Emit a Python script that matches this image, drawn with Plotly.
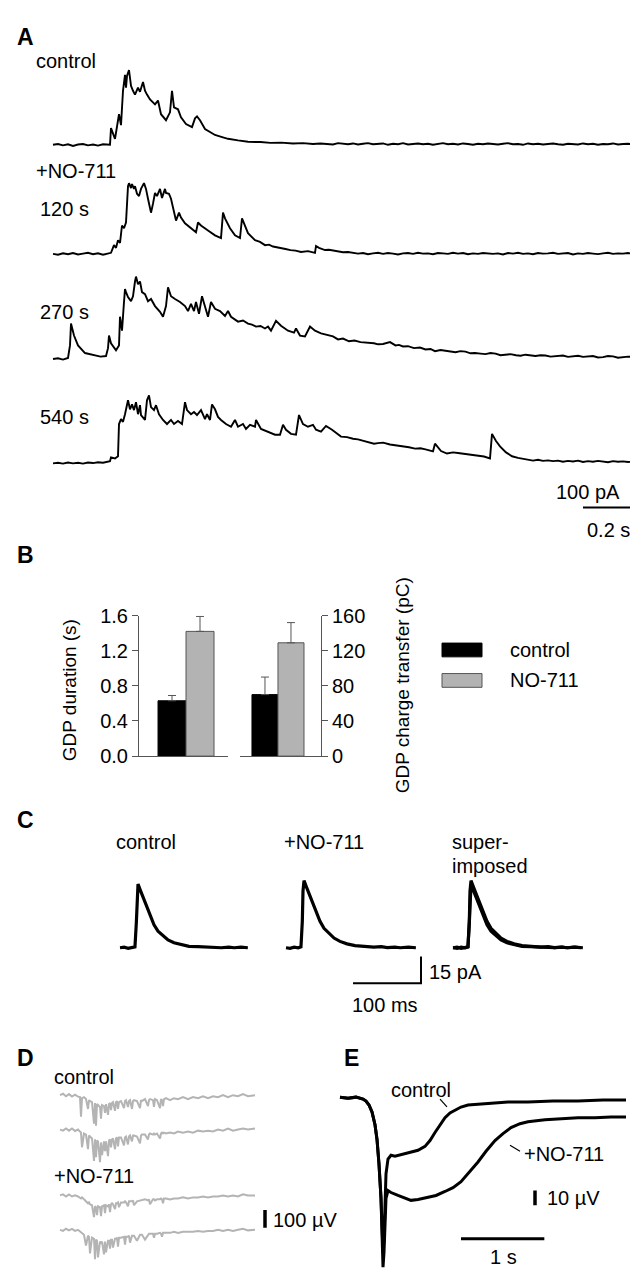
import plotly.graph_objects as go

W, H = 638, 1280
FONT = "Liberation Sans, Arial, Helvetica, sans-serif"

# ---------------- Panel A: GDP currents, (time ms, current pA) ----------------
ctrl = [(0,0),(20,3),(40,-2),(60,2),(80,-4),(100,1),(120,3),(140,-2),(160,1),(180,-3),(200,2),(220,0),(228,0),
 (232,61),(248,22),(264,112),(272,72),(280,198),(288,256),(292,209),(296,252),(304,274),(312,216),(320,198),(328,184),
 (340,209),(348,194),(360,230),(368,198),(376,184),(388,166),(408,148),(420,162),(432,112),(452,90),(468,119),(476,198),
 (484,137),(500,130),(512,101),(532,76),(556,65),(568,97),(576,104),(588,90),(608,58),(648,36),(670,30),(700,22),(740,16),
 (780,11),(830,10),(870,7),(912,8),(960,5),(1000,6),(1040,3),(1070,5),
 (1100,4),(1120,1),(1140,6),(1160,3),(1180,2),(1200,5),(1220,1),(1240,4),(1260,6),(1280,2),(1300,3),(1320,5),(1340,0),
 (1360,4),(1380,2),(1400,6),(1420,1),(1440,3),(1460,5),(1480,2),(1500,4),(1520,0),(1540,3),(1560,6),(1580,2),(1600,4),
 (1620,1),(1640,5),(1660,3),(1680,0),(1700,4),(1720,2),(1740,5),(1760,3),(1780,1),(1800,4),(1820,6),(1840,2),(1860,3),
 (1880,0),(1900,5),(1920,2),(1940,4),(1960,1),(1980,3),(2000,5),(2020,2),(2040,0),(2060,4),(2080,3),(2100,1),(2120,5),
 (2140,2),(2160,4),(2180,0),(2200,3),(2220,2),(2240,5),(2260,1),(2280,3),(2300,4),(2320,2)]

no711_120 = [(0,0),(20,-3),(40,2),(60,-1),(80,3),(100,-2),(120,1),(140,4),(160,-1),(180,2),(200,-3),(220,1),(232,4),
 (244,32),(252,22),(260,50),(268,40),(276,104),(284,94),(292,115),(300,248),(304,259),(312,241),(316,256),(324,238),
 (328,248),(336,220),(344,212),(352,238),(364,259),(372,238),(380,202),(392,151),(400,184),(408,223),(416,212),(428,238),
 (436,205),(448,238),(452,223),(464,220),(472,202),(484,151),(492,122),(504,151),(512,133),(528,112),(552,94),(572,79),
 (580,115),(592,104),(620,86),(648,68),(672,58),(680,151),(688,130),(708,94),(728,68),(748,58),(756,130),(768,104),
 (780,76),(808,50),(828,44),(848,32),(864,34),(880,27),(896,25),(912,22),(930,18),(950,14),(970,12),(992,7),(1020,10),
 (1048,4),(1052,29),(1064,22),(1088,14),(1104,15),(1120,12),(1140,8),(1160,6),(1180,7),
 (1200,4),(1220,1),(1240,3),(1260,-1),(1280,2),(1300,4),(1320,0),(1340,3),(1360,1),(1380,-2),(1400,2),(1420,3),(1440,0),
 (1460,4),(1480,1),(1500,2),(1520,-1),(1540,3),(1560,2),(1580,0),(1600,4),(1620,1),(1640,3),(1660,-1),(1680,2),(1700,0),
 (1720,3),(1740,1),(1760,0),(1780,2),(1800,-2),(1820,3),(1840,1),(1860,4),(1880,0),(1900,2),(1920,-1),(1940,3),(1960,1),
 (1980,2),(2000,4),(2020,0),(2040,1),(2060,3),(2080,-2),(2100,2),(2120,0),(2140,3),(2160,1),(2180,-1),(2200,2),(2220,4),
 (2240,0),(2260,2),(2280,1),(2300,3),(2320,0)]

no711_270 = [(0,0),(20,3),(40,-2),(60,4),(68,50),(72,130),(84,86),(100,50),(128,22),(150,18),(168,14),(190,9),(212,11),
 (220,40),(224,86),(232,58),(252,32),(264,50),(268,155),(276,104),(284,209),(288,256),(292,245),(300,227),(312,212),
 (320,230),(328,284),(332,302),(340,274),(348,284),(356,245),(368,238),(380,212),(392,220),(408,194),(428,173),(440,155),
 (452,194),(460,263),(472,230),(488,220),(508,209),(528,194),(540,176),(552,202),(564,176),(572,209),(584,166),(596,230),
 (608,191),(620,155),(632,209),(648,184),(668,176),(688,158),(700,176),(712,155),(740,137),(760,141),(780,130),(796,126),
 (812,119),(830,121),(848,112),(860,119),(872,104),(892,140),(912,122),(940,104),(964,97),(972,112),(988,86),(1008,83),
 (1028,119),(1048,104),(1072,94),(1100,86),(1120,83),(1140,72),(1160,75),(1184,65),(1206,68),(1230,62),(1256,60),
 (1284,58),(1300,54),(1320,55),(1348,62),(1370,50),(1384,52),(1400,46),(1420,47),(1444,40),(1468,42),(1490,35),
 (1510,37),(1528,29),(1550,33),(1570,31),(1590,27),(1610,25),(1630,29),(1650,27),(1670,21),(1688,22),(1710,20),
 (1730,18),(1750,22),(1770,20),(1790,14),(1810,15),(1830,18),(1852,14),(1870,12),(1890,16),(1910,13),(1930,11),
 (1950,14),(1970,13),(1990,9),(2016,11),(2040,13),(2060,8),(2080,10),(2100,12),(2120,8),(2140,10),(2160,11),(2180,6),
 (2200,7),(2220,11),(2240,10),(2260,5),(2280,6),(2300,9),(2320,7)]

no711_540 = [(0,-4),(20,-2),(40,-5),(60,-1),(80,-4),(100,-2),(120,-5),(140,-1),(160,-3),(180,0),(200,-2),(220,1),(228,4),
 (232,18),(248,14),(260,22),(264,140),(272,158),(280,148),(288,176),(300,227),(308,194),(316,212),(324,191),(332,220),
 (340,176),(348,209),(352,173),(368,155),(376,227),(384,245),(392,202),(404,191),(412,209),(424,176),(440,155),(456,140),
 (472,155),(484,140),(500,151),(516,140),(528,220),(536,191),(552,176),(564,184),(576,173),(592,191),(608,158),(616,176),
 (628,155),(636,212),(648,194),(660,166),(672,155),(692,140),(712,130),(728,155),(740,130),(760,140),(772,122),(788,137),
 (808,130),(812,155),(832,122),(860,112),(888,101),(908,101),(920,137),(932,119),(952,104),(972,101),(984,173),(1000,140),
 (1020,130),(1040,137),(1052,119),(1072,112),(1092,133),(1116,119),(1152,94),(1176,92),(1200,86),(1220,84),(1240,79),
 (1262,76),(1284,68),(1300,70),(1320,72),(1348,65),(1374,62),(1400,58),(1424,55),(1448,50),(1470,51),(1490,47),
 (1520,40),(1528,68),(1552,41),(1576,32),(1600,36),(1620,34),(1640,31),(1656,29),(1680,27),(1700,22),(1724,21),
 (1748,14),(1756,104),(1772,78),(1788,58),(1812,36),(1836,22),(1860,16),
 (1884,11),(1900,8),(1920,6),(1940,9),(1960,5),(1980,7),(2000,4),(2020,6),(2040,2),(2060,5),(2080,3),(2100,6),(2120,1),
 (2140,4),(2160,2),(2180,5),(2200,3),(2220,0),(2240,4),(2260,2),(2280,3),(2300,1),(2320,2)]

# ---------------- Panel B: bar chart ----------------
groups = ["control", "NO-711"]
dur_mean = [0.63, 1.42]      # GDP duration (s)
dur_sem = [0.06, 0.17]
chg_mean = [70, 129]         # GDP charge transfer (pC)
chg_sem = [20, 23]
dur_ticks = [0.0, 0.4, 0.8, 1.2, 1.6]
chg_ticks = [0, 40, 80, 120, 160]

# ---------------- Panel C: averaged currents (ms, pA) ----------------
c_ctrl = [(0,0),(6,0.3),(12,-0.3),(18,0),(22,0.5),(24,14),(25,30),(26.5,36),(29.4,33),(32.4,30),(36.8,26),(41.2,21),
 (45.6,17),(50,13),(55.9,9.4),(63.2,6.7),(70.6,4.4),(79.4,2.8),(89.7,1.7),(101.5,0.8),(114.7,0.6),(129,0.3),(140,0.5),
 (149,0),(160,0.4),(168,0),(178,0.3),(188,0)]
c_no711 = [(0,0),(6,-0.3),(12,0.3),(18,0),(22,0.5),(24,15),(25,32),(26.5,38),(29.4,35),(32.4,32),(36.8,28),(41.2,23),
 (45.6,19),(50,15),(55.9,11),(63.2,8),(70.6,5.5),(79.4,3.6),(89.7,2.2),(101.5,1.2),(114.7,0.8),(129,0.4),(140,0.6),
 (149,0.1),(160,0.4),(168,0),(180,0.3),(191,0)]

# ---------------- Panel D: field potentials (ms, uV) ----------------
d_t = [0,36,72,108,144,180,216,240,252,264,288,312,336,348,360,384,408,420,432,444,456,480,492,504,528,540,552,576,588,600,
 612,624,636,660,672,684,696,708,732,768,780,792,816,828,840,864,876,888,924,960,972,984,1020,1056,1068,1080,1116,1128,
 1140,1164,1200,1212,1224,1236,1248,1272,1320,1368,1416,1476,1536,1596,1656,1716,1776,1836,1896,1956,2016,2076,2136,
 2196,2256,2340]
d_ctrl1 = [0,8,-6,6,-8,3,-8,-11,-121,-17,-11,-22,-77,-28,-33,-39,-160,-44,-171,-50,-55,-66,-132,-55,-61,-99,-50,-110,-50,
 -44,-83,-44,-39,-88,-39,-33,-77,-39,-33,-72,-33,-28,-66,-33,-28,-77,-33,-28,-33,-72,-28,-33,-22,-61,-28,-22,-28,-66,-22,
 -28,-72,-22,-28,-61,-22,-17,-28,-17,-22,-11,-22,-11,-17,-6,-17,-6,-11,0,-11,0,-6,6,-6,0]
d_ctrl2 = [0,-6,6,-6,6,-8,0,-11,-17,-99,-22,-28,-110,-33,-39,-50,-176,-55,-154,-61,-66,-182,-72,-143,-66,-121,-66,-149,
 -61,-55,-99,-55,-50,-110,-50,-44,-94,-44,-44,-88,-44,-39,-83,-39,-33,-66,-33,-33,-39,-77,-33,-28,-28,-55,-28,-22,-28,
 -22,-28,-22,-50,-22,-17,-22,-17,-22,-17,-22,-11,-17,-11,-17,-6,-11,-6,-11,0,-6,6,-6,0,6,0,6]
d_no1 = [0,6,-6,6,-6,0,-6,-11,-17,-11,-22,-33,-44,-39,-50,-55,-121,-61,-66,-110,-61,-66,-116,-61,-55,-99,-55,-61,-50,-94,
 -50,-44,-50,-77,-44,-44,-39,-66,-39,-39,-33,-39,-61,-33,-33,-33,-28,-55,-33,-28,-28,-28,-22,-28,-22,-50,-22,-22,-28,-22,
 -22,-17,-22,-44,-17,-17,-22,-17,-17,-11,-17,-11,-11,-6,-11,-6,-6,0,-6,0,-6,6,0,0]
d_no2 = [0,-6,6,-3,5,-6,0,-8,-11,-17,-28,-88,-33,-39,-132,-44,-50,-165,-55,-61,-154,-66,-72,-66,-137,-66,-126,-61,-61,
 -105,-55,-55,-99,-50,-50,-44,-94,-44,-44,-39,-83,-39,-39,-33,-72,-33,-33,-33,-61,-28,-28,-28,-55,-28,-22,-22,-22,-44,
 -22,-22,-17,-22,-39,-17,-17,-17,-17,-11,-17,-11,-11,-11,-6,-11,-6,-6,0,-6,0,-6,0,6,-3,0]

# ---------------- Panel E: averaged field responses (ms, uV) ----------------
e_ctrl = [(0,2),(96,1.3),(192,2),(276,0.7),(312,-0.7),(348,-3.3),(384,-8),(420,-16.7),(444,-26.7),(468,-43.4),(492,-66.7),
 (504,-86.7),(516,-103.4),(528,-93.4),(540,-66.7),(552,-50),(576,-40),(612,-37.4),(660,-38),(756,-36.7),(852,-35.4),
 (936,-34),(1020,-31.4),(1080,-27.4),(1140,-22),(1200,-16.7),(1260,-12),(1320,-8.7),(1380,-6.7),(1452,-4.7),(1536,-3.3),
 (1656,-2.7),(1776,-2),(2016,-1.3),(2256,-1.3),(2556,-0.7),(2856,-0.7),(3156,0),(3432,0)]
e_no711 = [(0,2),(96,1.3),(192,2),(276,0.7),(312,-0.7),(348,-3.3),(384,-8),(420,-16.7),(444,-26.7),(468,-43.4),(492,-66.7),
 (504,-86.7),(516,-113.4),(528,-103.4),(540,-83.4),(552,-66.7),(576,-61.4),(612,-62.7),(696,-64.7),(780,-66.7),(852,-68),
 (936,-67.4),(1056,-66),(1152,-64.7),(1260,-62),(1356,-59.4),(1452,-55.4),(1548,-49.4),(1656,-42),(1752,-34.7),
 (1860,-27.4),(1956,-22.7),(2052,-18.7),(2160,-16),(2256,-14.7),(2460,-13.4),(2652,-12.7),(2856,-12),(3060,-12),
 (3252,-11.4),(3432,-11.4)]

# ======================================================================
fig = go.Figure()
lay = dict(width=W, height=H, margin=dict(l=0, r=0, t=0, b=0), paper_bgcolor="white",
           plot_bgcolor="rgba(0,0,0,0)", showlegend=False,
           font=dict(family=FONT, size=20, color="black"))
AX = "#555555"

# ---- Panel B real axes (axes 1 and 2) ----
by0, by1 = 607, 750
lay["xaxis"] = dict(domain=[131 / W, 220 / W], type="category", range=[-1.18, 2.0], showline=True,
                    linecolor=AX, linewidth=1, showticklabels=False, ticks="", showgrid=False,
                    zeroline=False, anchor="y")
lay["yaxis"] = dict(domain=[1 - by1 / H, 1 - by0 / H], range=[0, 1.6], showline=True, linecolor=AX,
                    linewidth=1, ticks="outside", ticklen=6, tickcolor=AX, tickvals=dur_ticks,
                    ticktext=["%.1f" % v for v in dur_ticks], tickfont=dict(size=20), showgrid=False,
                    zeroline=False, anchor="x")
lay["xaxis2"] = dict(domain=[232 / W, 313 / W], type="category", range=[-0.96, 2.154], showline=True,
                     linecolor=AX, linewidth=1, showticklabels=False, ticks="", showgrid=False,
                     zeroline=False, anchor="y2")
lay["yaxis2"] = dict(domain=[1 - by1 / H, 1 - by0 / H], range=[0, 160], side="right", showline=True,
                     linecolor=AX, linewidth=1, ticks="outside", ticklen=6, tickcolor=AX,
                     tickvals=chg_ticks, tickfont=dict(size=20), showgrid=False, zeroline=False,
                     anchor="x2")
bar_colors = ["black", "#b3b3b3"]
bar_lines = ["black", "#555555"]
for xa, ya, m, e in (("x", "y", dur_mean, dur_sem), ("x2", "y2", chg_mean, chg_sem)):
    fig.add_trace(go.Bar(x=groups, y=m, xaxis=xa, yaxis=ya, width=1.0,
                         marker=dict(color=bar_colors, line=dict(color=bar_lines, width=1)),
                         error_y=dict(type="data", symmetric=False, array=e, arrayminus=[0, 0],
                                      color="#555555", thickness=1, width=4),
                         hoverinfo="skip"))

axn = [2]


def box(x0, x1, y0, y1, xo, xs, yo, ys):
    """invisible axes over a pixel box; data origin at pixel (xo, yo), xs/ys pixels per unit"""
    axn[0] += 1
    s = str(axn[0])
    lay["xaxis" + s] = dict(domain=[x0 / W, x1 / W], range=[(x0 - xo) / xs, (x1 - xo) / xs],
                            visible=False, anchor="y" + s)
    lay["yaxis" + s] = dict(domain=[1 - y1 / H, 1 - y0 / H], range=[(yo - y1) / ys, (yo - y0) / ys],
                            visible=False, anchor="x" + s)
    return "x" + s, "y" + s


def trace(ax, xs, ys, color="black", width=1.6):
    fig.add_trace(go.Scatter(x=list(xs), y=list(ys), xaxis=ax[0], yaxis=ax[1], mode="lines",
                             line=dict(color=color, width=width), hoverinfo="skip"))


def pairs(ax, data, **kw):
    trace(ax, [p[0] for p in data], [p[1] for p in data], **kw)


# ---- Panel A ----
A_XS, A_YS = 0.25, 1 / 3.6
for data, base, top, bot in ((ctrl, 128, 35, 136), (no711_120, 239, 150, 246),
                              (no711_270, 346, 252, 353), (no711_540, 451, 372, 458)):
    pairs(box(40, 632, top, bot, 45, A_XS, base, A_YS), data, width=1.9)
ax = box(565, 632, 460, 503, 575, A_XS, 497, A_YS)
trace(ax, [0, 200, 200], [0, 0, 100], width=2)

# ---- Panel C ----
C_XS, C_YS = 0.68, 1.8
pairs(box(108, 246, 866, 950, 112, C_XS, 945, C_YS), c_ctrl, width=3.2)
pairs(box(274, 412, 866, 950, 278, C_XS, 945, C_YS), c_no711, width=3.2)
ax = box(441, 580, 866, 950, 445, C_XS, 945, C_YS)
pairs(ax, c_no711, width=3.2)
pairs(ax, c_ctrl, width=3.2)
ax = box(340, 418, 950, 987, 413, C_XS, 981, C_YS)
trace(ax, [-100, 0, 0], [0, 0, 15], width=2)

# ---- Panel D ----
D_XS, D_YS = 1 / 12, 1 / 5.5
for vals, base in ((d_ctrl1, 1095), (d_ctrl2, 1130), (d_no1, 1197), (d_no2, 1232)):
    trace(box(48, 252, base - 14, base + 36, 52, D_XS, base, D_YS), d_t, vals, color="#b4b4b4", width=2.0)
ax = box(250, 264, 1205, 1237, 257, D_XS, 1230, D_YS)
trace(ax, [0, 0], [0, 100], width=3.5)

# ---- Panel E ----
E_XS, E_YS = 1 / 12, 1.5
ax = box(326, 626, 1085, 1279, 332, E_XS, 1100, E_YS)
pairs(ax, e_no711, width=3)
pairs(ax, e_ctrl, width=3)
ax = box(518, 536, 1185, 1214, 527, E_XS, 1207, E_YS)
trace(ax, [0, 0], [0, 10], width=3.5)
ax = box(445, 545, 1234, 1248, 453, E_XS, 1241, E_YS)
trace(ax, [0, 1000], [0, 0], width=3)

# ---- text ----
ann = []


def txt(s, x, y, size=20, xa="left", bold=False, angle=0):
    ann.append(dict(text="<b>%s</b>" % s if bold else s, x=x / W, y=1 - y / H, xref="paper",
                    yref="paper", xanchor=xa, yanchor="middle", showarrow=False, textangle=angle,
                    font=dict(size=size, family=FONT, color="black")))


for letter, x, y in (("A", 7, 18), ("B", 7, 545), ("C", 7, 815), ("D", 7, 1057), ("E", 334, 1057)):
    txt(letter, x, y, size=23, bold=True)
txt("control", 26, 43)
txt("+NO-711", 26, 155)
txt("120 s", 30, 193)
txt("270 s", 30, 298)
txt("540 s", 30, 405)
txt("100 pA", 614, 481, xa="right")
txt("0.2 s", 600, 520, xa="center")
txt("GDP duration (s)", 61, 683, size=19, xa="center", angle=-90)
txt("GDP charge transfer (pC)", 394, 678, size=19, xa="center", angle=-90)
txt("control", 500, 642)
txt("NO-711", 500, 673)
txt("control", 106, 837)
txt("+NO-711", 274, 837)
txt("super-", 442, 837)
txt("imposed", 442, 862)
txt("15 pA", 419, 970)
txt("100 ms", 377, 1003, xa="center")
txt("control", 44, 1077)
txt("+NO-711", 44, 1177)
txt("100 µV", 263, 1222)
txt("control", 413, 1090, xa="center")
txt("+NO-711", 514, 1155)
txt("10 µV", 537, 1200)
txt("1 s", 495, 1260, xa="center")
lay["annotations"] = ann


def px_rect(x0, y0, x1, y1, fill, line):
    return dict(type="rect", xref="paper", yref="paper", x0=x0 / W, x1=x1 / W, y0=1 - y1 / H,
                y1=1 - y0 / H, fillcolor=fill, line=dict(color=line, width=1))


def px_line(x0, y0, x1, y1):
    return dict(type="line", xref="paper", yref="paper", x0=x0 / W, x1=x1 / W, y0=1 - y0 / H,
                y1=1 - y1 / H, line=dict(color="black", width=1.2))


lay["shapes"] = [px_rect(434, 635, 474, 649, "black", "black"),
                 px_rect(434, 666, 474, 680, "#b3b3b3", "#555555"),
                 px_line(432, 1099, 439, 1107),
                 px_line(502, 1146, 512, 1152)]

fig.update_layout(**lay)
fig.write_html("out.html")
